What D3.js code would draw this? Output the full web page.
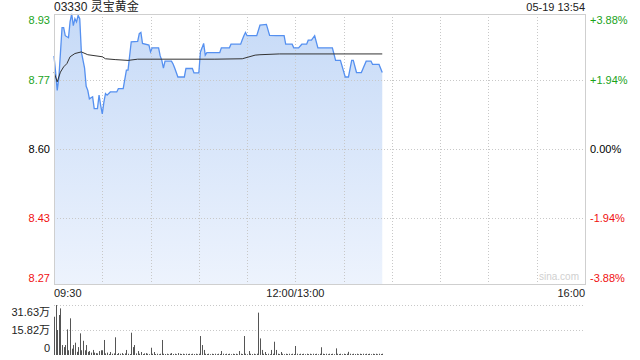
<!DOCTYPE html>
<html>
<head>
<meta charset="utf-8">
<script src="https://cdn.jsdelivr.net/npm/d3@7"></script>
<style>
  body { margin: 0; background: #fff; }
  svg { display: block; font-family: Arial, "Liberation Sans", "Noto Sans CJK SC", sans-serif; }
  .grid line { stroke: #c8c8c8; stroke-dasharray: 1,2; }
</style>
</head>
<body>
<svg width="640" height="360"></svg>
<script>
// ---- data ----
var title = '03330 灵宝黄金';
var stamp = '05-19 13:54';
var prevClose = 8.60;
var priceTicks = [8.93, 8.77, 8.60, 8.43, 8.27];
var pctTicks = ['+3.88%', '+1.94%', '0.00%', '-1.94%', '-3.88%'];
var timeLabels = ['09:30', '12:00/13:00', '16:00'];
var volTicks = [31.63, 15.82, 0];

// price line vertices [time, price]
var priceTimes = ['09:30','09:31','09:32','09:33','09:35','09:36','09:37','09:39','09:40','09:41',
  '09:42','09:43','09:44','09:45','09:46','09:47','09:49','09:50','09:51','09:52',
  '09:54','09:55','09:57','09:58','09:59','10:00','10:01','10:02','10:03','10:05',
  '10:09','10:10','10:13','10:15','10:16','10:18','10:22','10:23','10:24','10:25',
  '10:29','10:30','10:31','10:35','10:36','10:37','10:38','10:39','10:43','10:44',
  '10:45','10:47','10:51','10:52','10:56','10:57','11:00','11:01','11:02','11:03',
  '11:04','11:05','11:13','11:14','11:19','11:20','11:26','11:27','11:28','11:29',
  '11:30','11:36','11:38','11:42','11:44','11:48','11:53','11:54','11:58','11:59',
  '13:00','13:02','13:04','13:07','13:08','13:10','13:12','13:14','13:23','13:25',
  '13:28','13:31','13:33','13:35','13:36','13:38','13:41','13:44','13:47','13:48',
  '13:52','13:54'];
var priceValues = [8.83,8.79,8.745,8.775,8.90,8.90,8.88,8.875,8.915,8.934,
  8.905,8.922,8.914,8.93,8.922,8.84,8.80,8.755,8.745,8.724,
  8.729,8.70,8.70,8.733,8.708,8.687,8.716,8.737,8.733,8.741,
  8.741,8.749,8.749,8.795,8.795,8.865,8.866,8.885,8.888,8.861,
  8.857,8.84,8.85,8.85,8.83,8.819,8.80,8.817,8.817,8.81,
  8.80,8.778,8.778,8.799,8.799,8.788,8.788,8.84,8.85,8.861,
  8.832,8.838,8.838,8.85,8.85,8.859,8.859,8.87,8.88,8.888,
  8.88,8.88,8.906,8.908,8.881,8.88,8.88,8.859,8.859,8.85,
  8.85,8.85,8.859,8.859,8.869,8.869,8.88,8.85,8.85,8.819,
  8.819,8.778,8.778,8.819,8.819,8.789,8.789,8.817,8.817,8.809,
  8.809,8.789];

// average price line vertices
var avgTimes = ['09:30','09:32','09:34','09:36','09:38','09:40','09:43','09:47','09:51','10:00',
  '10:02','10:08','10:16','10:22','11:10','11:27','11:35','11:38','11:50','13:54'];
var avgValues = [8.79,8.766,8.79,8.803,8.811,8.828,8.836,8.84,8.833,8.828,
  8.823,8.821,8.819,8.822,8.822,8.823,8.832,8.833,8.835,8.835];

// volume per minute from 09:30 (万), 205 bars
var volumes = [
  24.2,31.6,15.8,25.3,29.5,6.3,5.0,6.3,16.2,3.0,
  23.2,4.0,6.3,7.8,2.0,5.0,13.7,3.0,9.0,3.0,
  6.3,2.0,2.5,1.5,3.2,1.5,1.2,1.0,2.5,3.0,
  3.0,9.5,1.0,1.5,0.6,1.9,0.8,1.0,11.2,0.6,
  1.2,0.8,1.2,0.5,1.0,3.2,0.8,0.6,14.1,5.0,
  6.3,1.0,2.5,0.8,1.9,0.6,1.0,1.2,0.8,0.5,
  4.6,0.8,1.9,0.6,0.8,0.5,0.8,9.5,0.8,0.6,
  0.8,0.5,0.8,1.2,0.6,0.8,0.5,1.2,0.8,0.6,
  0.8,0.5,0.8,0.6,0.8,0.5,0.8,0.6,0.8,0.5,
  0.8,12.0,6.3,3.2,0.8,0.6,0.8,0.5,0.8,0.6,
  0.8,0.5,0.8,0.6,2.5,0.8,0.5,0.8,0.6,0.8,
  0.5,0.8,0.6,0.8,0.5,2.5,0.8,0.6,12.0,0.8,
  0.5,2.5,0.8,0.6,0.8,0.5,0.8,26.8,10.5,3.2,
  0.8,1.9,0.6,0.8,0.5,3.2,0.8,8.4,3.2,0.8,
  0.6,1.9,0.8,0.5,0.8,0.6,0.8,0.5,0.8,0.6,
  5.7,0.8,0.5,0.8,0.6,0.8,0.5,0.8,0.6,0.8,
  0.5,0.8,0.6,0.8,0.5,0.8,4.9,0.8,0.6,0.8,
  0.5,0.8,0.6,0.8,0.5,4.2,0.8,0.6,0.8,0.5,
  0.8,0.6,0.8,2.0,0.8,0.5,0.8,0.6,0.8,0.5,
  0.8,0.6,0.8,0.5,0.8,0.6,0.8,0.5,0.8,0.6,
  0.8,0.5,0.8,0.6,0.8];

// trading minute index: 09:30 -> 0, 12:00/13:00 -> 150, 16:00 -> 330
function tradeMin(t) {
    var p = t.split(':'), m = +p[0] * 60 + +p[1];
    if (m <= 720) return m - 570;
    return 150 + (m - 780);
}

var svg = d3.select('svg');
var mLeft = 54, mRight = 585, mTop = 14, mBottom = 284;
var volTop = 305, volBottom = 355;

var x = d3.scaleLinear().domain([0, 330]).range([mLeft, mRight]);
var yMax = prevClose * 1.0388, yMin = prevClose * (1 - 0.0388);
var y = d3.scaleLinear().domain([yMin, yMax]).range([mBottom, mTop]);
var yVol = d3.scaleLinear().domain([0, 31.63]).range([volBottom, volTop]);

function tickColor(v) {
    if (Math.abs(v - prevClose) < 0.001) return '#000';
    return v > prevClose ? '#1aa31a' : '#f01010';
}
// first / last labels are pushed inside the panel
function labelShift(i, n) {
    if (i === 0) return 4.5;
    if (i === n - 1) return -4.5;
    return 0;
}

// gradient for price area
var grad = svg.append('defs').append('linearGradient')
    .attr('id', 'fillGrad').attr('x1', 0).attr('y1', 0).attr('x2', 0).attr('y2', 1);
grad.append('stop').attr('offset', '0%').attr('stop-color', '#c6daf7');
grad.append('stop').attr('offset', '100%').attr('stop-color', '#edf3fd');

var pts = priceTimes.map(function(t, i) { return [tradeMin(t), priceValues[i]]; });
var avgPts = avgTimes.map(function(t, i) { return [tradeMin(t), avgValues[i]]; });

// price area first, grid on top of it
svg.append('path').datum(pts)
    .attr('fill', 'url(#fillGrad)')
    .attr('d', d3.area().x(function(d) { return x(d[0]); }).y0(mBottom).y1(function(d) { return y(d[1]); }));

var grid = svg.append('g').attr('class', 'grid');
grid.selectAll('.v').data(d3.range(30, 330, 30)).enter().append('line')
    .attr('x1', function(d) { return Math.round(x(d)) + 0.5; })
    .attr('x2', function(d) { return Math.round(x(d)) + 0.5; })
    .attr('y1', mTop).attr('y2', mBottom);
grid.selectAll('.h').data(priceTicks.slice(1, 4)).enter().append('line')
    .attr('x1', mLeft).attr('x2', mRight)
    .attr('y1', function(d) { return Math.round(y(d)) + 0.5; })
    .attr('y2', function(d) { return Math.round(y(d)) + 0.5; });
grid.selectAll('.vh').data(volTicks.slice(0, 2)).enter().append('line')
    .attr('x1', mLeft).attr('x2', mRight)
    .attr('y1', function(d) { return Math.round(yVol(d)) + 0.5; })
    .attr('y2', function(d) { return Math.round(yVol(d)) + 0.5; });

svg.append('path').datum(pts)
    .attr('fill', 'none').attr('stroke', '#5590f0').attr('stroke-width', 1.3)
    .attr('d', d3.line().x(function(d) { return x(d[0]); }).y(function(d) { return y(d[1]); }));

svg.append('path').datum(avgPts)
    .attr('fill', 'none').attr('stroke', '#333').attr('stroke-width', 1)
    .attr('d', d3.line().x(function(d) { return x(d[0]); }).y(function(d) { return y(d[1]); }));

// frame of price panel
svg.append('rect').attr('x', mLeft + 0.5).attr('y', mTop + 0.5)
    .attr('width', mRight - mLeft).attr('height', mBottom - mTop)
    .attr('fill', 'none').attr('stroke', '#cfcfcf');

// volume bars
svg.selectAll('.vol').data(volumes).enter().append('rect')
    .attr('x', function(d, i) { return Math.round(x(i)); })
    .attr('width', 1)
    .attr('y', function(d) { return yVol(d); })
    .attr('height', function(d) { return volBottom - yVol(d); })
    .attr('fill', '#555');

// texts
svg.append('text').attr('x', mLeft).attr('y', 11).attr('font-size', 12).attr('fill', '#222').text(title);
svg.append('text').attr('x', mRight).attr('y', 11).attr('font-size', 11).attr('fill', '#222')
    .attr('text-anchor', 'end').text(stamp);

svg.selectAll('.pl').data(priceTicks).enter().append('text')
    .attr('x', 50).attr('text-anchor', 'end').attr('font-size', 11)
    .attr('y', function(d, i) { return y(d) + 4 + labelShift(i, priceTicks.length); })
    .attr('fill', tickColor)
    .text(function(d) { return d.toFixed(2); });

svg.selectAll('.pr').data(pctTicks).enter().append('text')
    .attr('x', 590).attr('font-size', 11)
    .attr('y', function(d, i) { return y(priceTicks[i]) + 4 + labelShift(i, pctTicks.length); })
    .attr('fill', function(d, i) { return tickColor(priceTicks[i]); })
    .text(function(d) { return d; });

var tl = [[0, 'start'], [150, 'middle'], [330, 'end']];
svg.selectAll('.tl').data(timeLabels).enter().append('text')
    .attr('x', function(d, i) { return x(tl[i][0]); })
    .attr('y', 297).attr('font-size', 11).attr('fill', '#222')
    .attr('text-anchor', function(d, i) { return tl[i][1]; })
    .text(function(d) { return d; });

svg.selectAll('.vl').data(volTicks).enter().append('text')
    .attr('x', 50).attr('text-anchor', 'end').attr('font-size', 11).attr('fill', '#222')
    .attr('y', function(d, i) { return yVol(d) + 4 + (i === 0 ? 7 : 0) + (i === 2 ? -7 : 0); })
    .text(function(d) { return d === 0 ? '0' : d.toFixed(2) + '万'; });

svg.append('text').attr('x', 579).attr('y', 280).attr('text-anchor', 'end')
    .attr('font-size', 10).attr('fill', '#d0d0d0').text('sina.com');
</script>
</body>
</html>
